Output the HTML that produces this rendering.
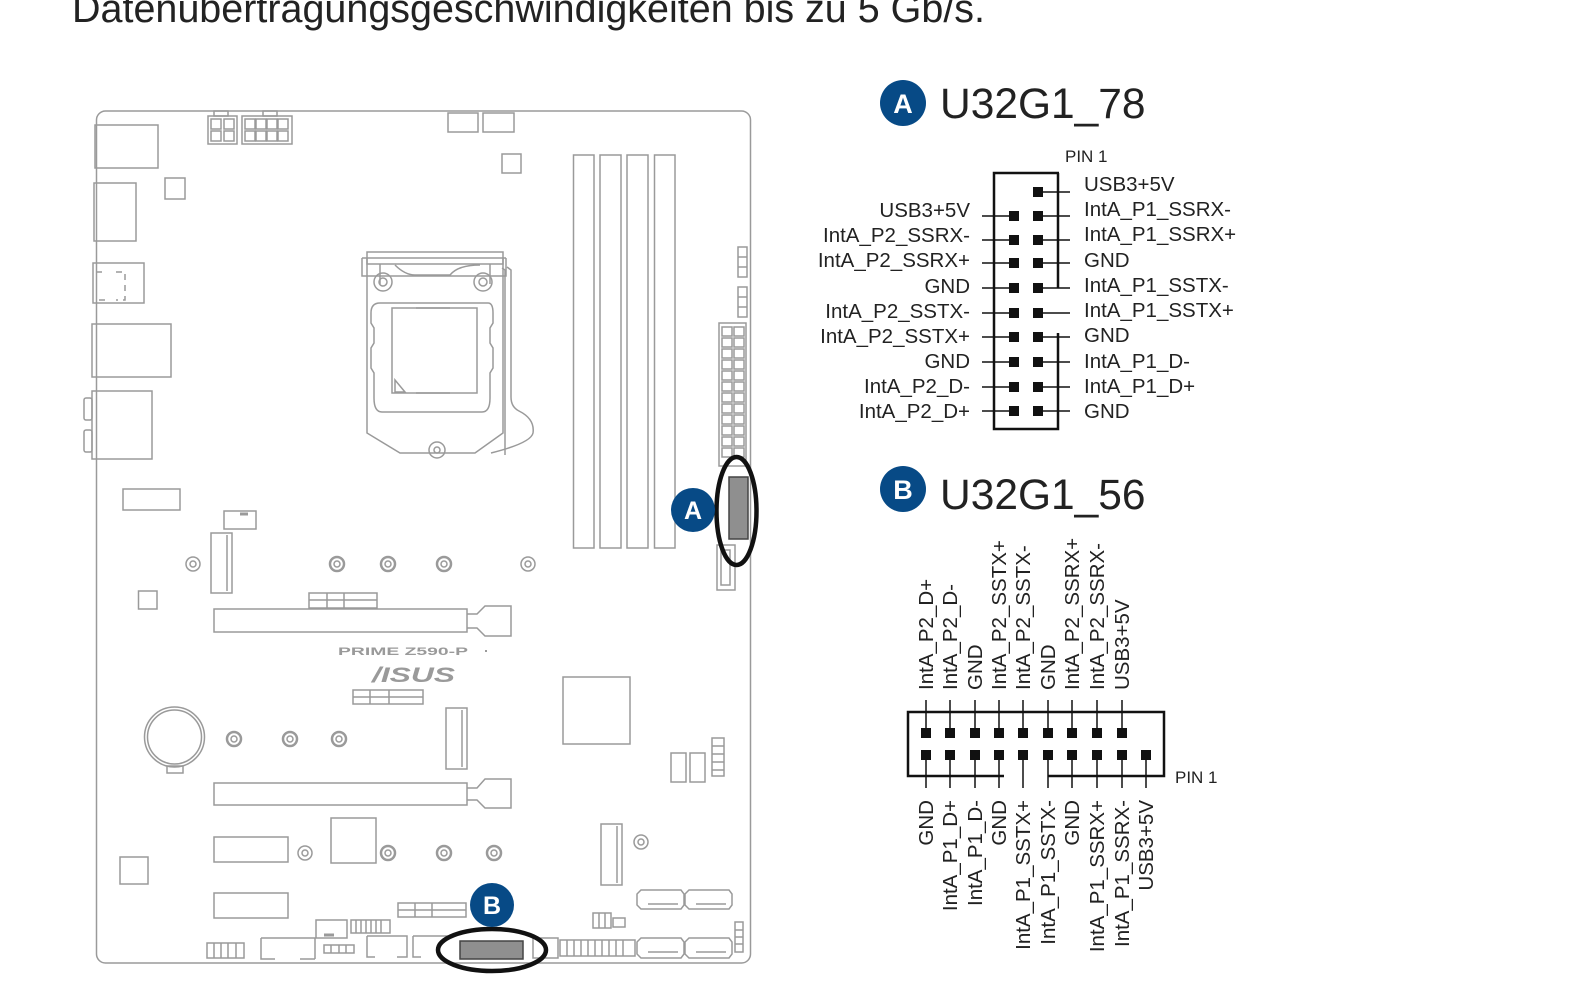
<!DOCTYPE html>
<html><head><meta charset="utf-8"><style>
html,body{margin:0;padding:0;background:#fff;}
svg{display:block;}
</style></head><body>
<svg width="1596" height="1006" viewBox="0 0 1596 1006" xmlns="http://www.w3.org/2000/svg" font-family="Liberation Sans, sans-serif">
<text x="72" y="22" font-size="40" fill="#222" textLength="913" lengthAdjust="spacingAndGlyphs">Datenübertragungsgeschwindigkeiten bis zu 5 Gb/s.</text>

<g fill="none" stroke="#9a9a9a" stroke-width="1.5">
<rect x="96.5" y="111" width="654" height="852" rx="9"/>
<rect x="95" y="125" width="63" height="43"/>
<rect x="94" y="183" width="42" height="58"/>
<rect x="165" y="178" width="20" height="21"/>
<rect x="93" y="263" width="51" height="40"/>
<path d="M96 272h9M116 272h9v28h-9M105 300h-9" stroke-dasharray="6 5"/>
<rect x="92" y="324" width="79" height="53"/>
<rect x="92" y="391" width="60" height="68"/>
<rect x="84" y="398" width="8" height="22" rx="2"/>
<rect x="84" y="430" width="8" height="22" rx="2"/>
<rect x="123" y="489" width="57" height="21"/>
<rect x="224" y="511" width="32" height="18"/><path d="M240 514h8" stroke-width="3"/>
<rect x="211" y="533" width="21" height="60"/><path d="M227 535v56"/>
<rect x="208" y="116" width="29" height="28"/>
<rect x="214" y="111" width="14" height="5"/>
<rect x="211" y="119" width="10" height="10"/><rect x="224" y="119" width="10" height="10"/>
<rect x="211" y="131" width="10" height="10"/><rect x="224" y="131" width="10" height="10"/>
<rect x="242" y="116" width="50" height="28"/>
<rect x="263" y="111" width="14" height="5"/>
<rect x="245" y="119" width="10" height="10"/><rect x="256" y="119" width="10" height="10"/><rect x="267" y="119" width="10" height="10"/><rect x="278" y="119" width="10" height="10"/>
<rect x="245" y="131" width="10" height="10"/><rect x="256" y="131" width="10" height="10"/><rect x="267" y="131" width="10" height="10"/><rect x="278" y="131" width="10" height="10"/>
<rect x="448" y="113" width="30" height="19"/><rect x="483" y="113" width="31" height="19"/>
<rect x="502" y="154" width="19" height="19"/>
<rect x="573.5" y="155" width="20.5" height="393"/>
<rect x="600" y="155" width="21" height="393"/>
<rect x="627" y="155" width="21" height="393"/>
<rect x="654.5" y="155" width="20.5" height="393"/>
<path d="M367 258v175l33 20h75l28-20v-175"/>
<path d="M362 258h144M367 252h136v12h-136z"/>
<path d="M380 264v20M490 264v20M362 258v18h144v-18"/>
<path d="M395 265q10 10 20 10h35q8-10 30-10"/>
<circle cx="383" cy="282" r="9"/><circle cx="383" cy="282" r="4"/>
<circle cx="483" cy="282" r="9"/><circle cx="483" cy="282" r="4"/>
<path d="M380 303h108q5 0 5 10v10l-3 5v15l3 5v20l-3 5v25q0 14-8 14h-100q-8 0-8-14v-25l-3-5v-20l3-5v-15l-3-5v-10q0-10 9-10z"/>
<rect x="392" y="308" width="85" height="85"/>
<path d="M416 308h34M416 393h34M395 380l10 12h-10z"/>
<circle cx="437" cy="450" r="8"/><circle cx="437" cy="450" r="3"/>
<path d="M507 267l4 3v127q0 10 8 14q16 8 14 22q-2 10-42 20"/>
<path d="M502 268l3 2v185"/>
<rect x="738" y="247" width="9" height="30"/><path d="M738 257h9M738 267h9"/>
<rect x="738" y="287" width="9" height="30"/><path d="M738 297h9M738 307h9"/>
<rect x="719" y="323" width="27" height="143"/>
<g>
<rect x="722" y="327" width="10" height="9"/><rect x="734" y="327" width="10" height="9"/>
<rect x="722" y="338" width="10" height="9"/><rect x="734" y="338" width="10" height="9"/>
<rect x="722" y="349" width="10" height="9"/><rect x="734" y="349" width="10" height="9"/>
<rect x="722" y="360" width="10" height="9"/><rect x="734" y="360" width="10" height="9"/>
<rect x="722" y="371" width="10" height="9"/><rect x="734" y="371" width="10" height="9"/>
<rect x="722" y="382" width="10" height="9"/><rect x="734" y="382" width="10" height="9"/>
<rect x="722" y="393" width="10" height="9"/><rect x="734" y="393" width="10" height="9"/>
<rect x="722" y="404" width="10" height="9"/><rect x="734" y="404" width="10" height="9"/>
<rect x="722" y="415" width="10" height="9"/><rect x="734" y="415" width="10" height="9"/>
<rect x="722" y="426" width="10" height="9"/><rect x="734" y="426" width="10" height="9"/>
<rect x="722" y="437" width="10" height="9"/><rect x="734" y="437" width="10" height="9"/>
<rect x="722" y="448" width="10" height="9"/><rect x="734" y="448" width="10" height="9"/>
</g>
<rect x="717" y="545" width="18" height="45"/><rect x="721" y="550" width="9" height="35"/>
<circle cx="193" cy="564" r="7"/><circle cx="193" cy="564" r="3"/>
<circle cx="337" cy="564" r="7" stroke-width="2.5"/><circle cx="337" cy="564" r="3"/>
<circle cx="388" cy="564" r="7" stroke-width="2.5"/><circle cx="388" cy="564" r="3"/>
<circle cx="444" cy="564" r="7" stroke-width="2.5"/><circle cx="444" cy="564" r="3"/>
<circle cx="528" cy="564" r="7"/><circle cx="528" cy="564" r="3"/>
<rect x="138.5" y="591" width="18.5" height="18"/>
<rect x="309" y="593" width="68" height="15"/><path d="M309 600h68M327 593v15M344 593v15"/>
<rect x="214" y="609" width="253" height="23"/>
<path d="M467 614h10l8-8h26v30h-26l-8-8h-10"/>
<rect x="353" y="690" width="70" height="14"/><path d="M353 697h70M370 690v14M389 690v14"/>
<circle cx="174.5" cy="737" r="30"/><circle cx="174.5" cy="737" r="27"/>
<rect x="167" y="766" width="16" height="7"/>
<circle cx="234" cy="739" r="7" stroke-width="2.5"/><circle cx="234" cy="739" r="3"/>
<circle cx="290" cy="739" r="7" stroke-width="2.5"/><circle cx="290" cy="739" r="3"/>
<circle cx="339" cy="739" r="7" stroke-width="2.5"/><circle cx="339" cy="739" r="3"/>
<rect x="446" y="708" width="21" height="61"/><path d="M462 710v57"/>
<rect x="563" y="677" width="67" height="67"/>
<rect x="671" y="753" width="15" height="29"/><rect x="690" y="753" width="15" height="29"/>
<rect x="712" y="738" width="12" height="38"/><path d="M712 746h12M712 754h12M712 762h12M712 770h12"/>
<rect x="214" y="783" width="253" height="22"/>
<path d="M467 788h10l8-9h26v29h-26l-8-8h-10"/>
<rect x="214" y="837" width="74" height="25"/>
<circle cx="305" cy="853" r="7"/><circle cx="305" cy="853" r="3"/>
<rect x="331" y="818" width="45" height="45"/>
<circle cx="388" cy="853" r="7" stroke-width="2.5"/><circle cx="388" cy="853" r="3"/>
<circle cx="444" cy="853" r="7" stroke-width="2.5"/><circle cx="444" cy="853" r="3"/>
<circle cx="494" cy="853" r="7" stroke-width="2.5"/><circle cx="494" cy="853" r="3"/>
<rect x="120" y="857" width="28" height="27"/>
<rect x="601" y="824" width="21" height="61"/><path d="M617 826v57"/>
<circle cx="641" cy="842" r="7"/><circle cx="641" cy="842" r="3"/>
<rect x="214" y="893" width="74" height="25"/>
<rect x="398" y="903" width="68" height="14"/><path d="M398 910h68M415 903v14M432 903v14"/>
<path d="M641 890h40l3 4v11l-3 4h-40l-4-4v-11z M648 904h30"/>
<path d="M689 890h40l3 4v11l-3 4h-40l-4-4v-11z M696 904h30"/>
<rect x="593" y="913" width="18" height="15"/><path d="M599 913v15M605 913v15"/><rect x="613" y="918" width="12" height="9"/>
<rect x="207" y="943" width="37" height="15"/><path d="M214 943v15M221 943v15M228 943v15M236 943v15"/>
<path d="M261 938h54v21M261 938v21h14M300 959h15"/>
<rect x="316" y="920" width="31" height="18"/><path d="M324 935h10" stroke-width="3"/>
<rect x="351" y="920" width="39" height="13"/><path d="M356 920v13M361 920v13M366 920v13M371 920v13M376 920v13M381 920v13"/>
<rect x="324" y="945" width="30" height="8"/><path d="M331 945v8M339 945v8M346 945v8"/>
<path d="M367 936h40v21h-10M367 936v21h8"/>
<path d="M413 936h35M413 936v21h8"/>
<rect x="533" y="938" width="25" height="20"/>
<rect x="560" y="940" width="75" height="16"/><path d="M567 940v16M574 940v16M581 940v16M588 940v16M595 940v16M602 940v16M609 940v16M616 940v16M623 940v16"/>
<path d="M641 938h40l3 4v12l-3 4h-40l-4-4v-12z M648 952h30"/>
<path d="M689 938h40l3 4v12l-3 4h-40l-4-4v-12z M696 952h30"/>
<rect x="735" y="922" width="8" height="30"/><path d="M735 930h8M735 937h8M735 944h8"/>
</g>
<text x="338" y="655" font-size="11" font-weight="bold" fill="#9a9a9a" textLength="130" lengthAdjust="spacingAndGlyphs">PRIME Z590-P</text>
<rect x="485" y="650" width="2" height="2" fill="#9a9a9a"/>
<text x="372" y="682" font-size="21" font-weight="bold" font-style="italic" fill="#9a9a9a" textLength="83" lengthAdjust="spacingAndGlyphs">/ISUS</text>

<rect x="729" y="477" width="19" height="62" fill="#8f8f8f" stroke="#444" stroke-width="1.5"/>
<ellipse cx="736.5" cy="511" rx="20" ry="54" fill="none" stroke="#111" stroke-width="4.5"/>
<circle cx="693" cy="510" r="22" fill="#074a86"/>
<text x="693" y="519" font-size="25" font-weight="bold" fill="#fff" text-anchor="middle">A</text>
<rect x="460" y="941" width="63" height="18" fill="#8f8f8f" stroke="#444" stroke-width="1.5"/>
<ellipse cx="492" cy="950" rx="54" ry="21" fill="none" stroke="#111" stroke-width="4.5"/>
<circle cx="492" cy="905" r="22" fill="#074a86"/>
<text x="492" y="914" font-size="25" font-weight="bold" fill="#fff" text-anchor="middle">B</text>

<circle cx="903" cy="103" r="23" fill="#074a86"/>
<text x="903" y="113" font-size="27" font-weight="bold" fill="#fff" text-anchor="middle">A</text>
<text x="940" y="118" font-size="42.5" fill="#222">U32G1_78</text>
<text x="1065" y="162" font-size="17" fill="#222">PIN 1</text>
<g stroke="#111" stroke-width="2.5" fill="none">
<path d="M1059 173H994V429H1058V333M1058 173V288"/>
</g>
<g stroke="#111" stroke-width="1.5">
<path d="M982 216h32M982 240h32M982 263h32M982 288h32M982 313h32M982 337h32M982 362h32M982 387h32M982 411h32"/>
<path d="M1038 192h32M1038 216h32M1038 240h32M1038 263h32M1038 288h32M1038 313h32M1038 337h32M1038 362h32M1038 387h32M1038 411h32"/>
</g>
<g fill="#111">
<rect x="1033" y="187" width="10" height="10"/>
<rect x="1009" y="211" width="10" height="10"/><rect x="1033" y="211" width="10" height="10"/>
<rect x="1009" y="235" width="10" height="10"/><rect x="1033" y="235" width="10" height="10"/>
<rect x="1009" y="258" width="10" height="10"/><rect x="1033" y="258" width="10" height="10"/>
<rect x="1009" y="283" width="10" height="10"/><rect x="1033" y="283" width="10" height="10"/>
<rect x="1009" y="308" width="10" height="10"/><rect x="1033" y="308" width="10" height="10"/>
<rect x="1009" y="332" width="10" height="10"/><rect x="1033" y="332" width="10" height="10"/>
<rect x="1009" y="357" width="10" height="10"/><rect x="1033" y="357" width="10" height="10"/>
<rect x="1009" y="382" width="10" height="10"/><rect x="1033" y="382" width="10" height="10"/>
<rect x="1009" y="406" width="10" height="10"/><rect x="1033" y="406" width="10" height="10"/>
</g>
<g font-size="20.5" fill="#222" text-anchor="end">
<text x="970" y="217">USB3+5V</text>
<text x="970" y="242">IntA_P2_SSRX-</text>
<text x="970" y="267">IntA_P2_SSRX+</text>
<text x="970" y="293">GND</text>
<text x="970" y="318">IntA_P2_SSTX-</text>
<text x="970" y="343">IntA_P2_SSTX+</text>
<text x="970" y="368">GND</text>
<text x="970" y="393">IntA_P2_D-</text>
<text x="970" y="418">IntA_P2_D+</text>
</g>
<g font-size="20.5" fill="#222">
<text x="1084" y="191">USB3+5V</text>
<text x="1084" y="216">IntA_P1_SSRX-</text>
<text x="1084" y="241">IntA_P1_SSRX+</text>
<text x="1084" y="267">GND</text>
<text x="1084" y="292">IntA_P1_SSTX-</text>
<text x="1084" y="317">IntA_P1_SSTX+</text>
<text x="1084" y="342">GND</text>
<text x="1084" y="368">IntA_P1_D-</text>
<text x="1084" y="393">IntA_P1_D+</text>
<text x="1084" y="418">GND</text>
</g>

<circle cx="903" cy="489" r="23" fill="#074a86"/>
<text x="903" y="499" font-size="27" font-weight="bold" fill="#fff" text-anchor="middle">B</text>
<text x="940" y="509" font-size="42.5" fill="#222">U32G1_56</text>
<text x="1175" y="783" font-size="17" fill="#222">PIN 1</text>
<g stroke="#111" stroke-width="2.5" fill="none">
<path d="M1004 776H908V712H1164V776H1048"/>
</g>
<g stroke="#111" stroke-width="1.5">
<path d="M926 700v33M950 700v33M975 700v33M999 700v33M1023 700v33M1048 700v33M1072 700v33M1097 700v33M1122 700v33"/>
<path d="M926 755v33M950 755v33M975 755v33M999 755v33M1023 755v33M1048 755v33M1072 755v33M1097 755v33M1122 755v33M1146 755v33"/>
</g>
<g fill="#111">
<rect x="921" y="728" width="10" height="10"/><rect x="945" y="728" width="10" height="10"/><rect x="970" y="728" width="10" height="10"/><rect x="994" y="728" width="10" height="10"/><rect x="1018" y="728" width="10" height="10"/><rect x="1043" y="728" width="10" height="10"/><rect x="1067" y="728" width="10" height="10"/><rect x="1092" y="728" width="10" height="10"/><rect x="1117" y="728" width="10" height="10"/>
<rect x="921" y="750" width="10" height="10"/><rect x="945" y="750" width="10" height="10"/><rect x="970" y="750" width="10" height="10"/><rect x="994" y="750" width="10" height="10"/><rect x="1018" y="750" width="10" height="10"/><rect x="1043" y="750" width="10" height="10"/><rect x="1067" y="750" width="10" height="10"/><rect x="1092" y="750" width="10" height="10"/><rect x="1117" y="750" width="10" height="10"/><rect x="1141" y="750" width="10" height="10"/>
</g>
<g font-size="20.5" fill="#222">
<text transform="translate(933,690) rotate(-90)">IntA_P2_D+</text>
<text transform="translate(957,690) rotate(-90)">IntA_P2_D-</text>
<text transform="translate(982,690) rotate(-90)">GND</text>
<text transform="translate(1006,690) rotate(-90)">IntA_P2_SSTX+</text>
<text transform="translate(1030,690) rotate(-90)">IntA_P2_SSTX-</text>
<text transform="translate(1055,690) rotate(-90)">GND</text>
<text transform="translate(1079,690) rotate(-90)">IntA_P2_SSRX+</text>
<text transform="translate(1104,690) rotate(-90)">IntA_P2_SSRX-</text>
<text transform="translate(1129,690) rotate(-90)">USB3+5V</text>
</g>
<g font-size="20.5" fill="#222" text-anchor="end">
<text transform="translate(933,800) rotate(-90)">GND</text>
<text transform="translate(957,800) rotate(-90)">IntA_P1_D+</text>
<text transform="translate(982,800) rotate(-90)">IntA_P1_D-</text>
<text transform="translate(1006,800) rotate(-90)">GND</text>
<text transform="translate(1030,800) rotate(-90)">IntA_P1_SSTX+</text>
<text transform="translate(1055,800) rotate(-90)">IntA_P1_SSTX-</text>
<text transform="translate(1079,800) rotate(-90)">GND</text>
<text transform="translate(1104,800) rotate(-90)">IntA_P1_SSRX+</text>
<text transform="translate(1129,800) rotate(-90)">IntA_P1_SSRX-</text>
<text transform="translate(1153,800) rotate(-90)">USB3+5V</text>
</g>
</svg>
</body></html>
